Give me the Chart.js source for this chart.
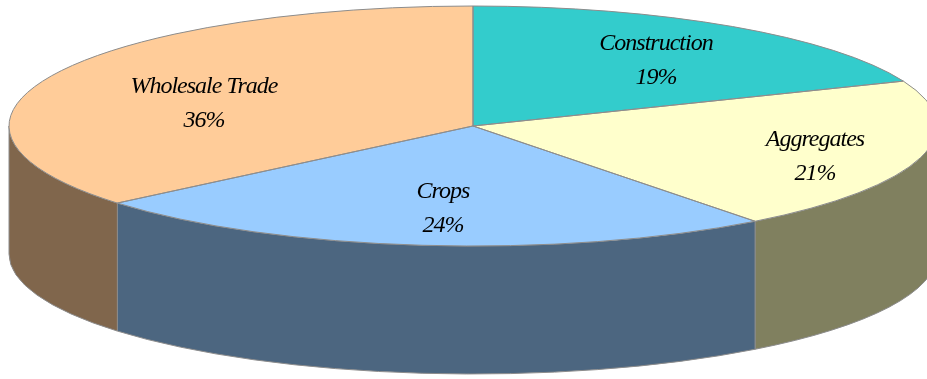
<!DOCTYPE html>
<html>
<head>
<meta charset="utf-8">
<script src="https://cdn.jsdelivr.net/npm/chart.js@4/dist/chart.umd.min.js"></script>
<style>
  html, body { margin: 0; padding: 0; background: #ffffff; overflow: hidden; }
  canvas { display: block; }
</style>
</head>
<body>
<canvas id="chart" width="927" height="379"></canvas>
<script>
// Share of activity by sector (percent)
const categories = ['Construction', 'Aggregates', 'Crops', 'Wholesale Trade'];
const shares     = [18.9, 20.7, 24.3, 36.1];

// Slice colours: top faces and their shaded outer walls
const topColors  = ['#33CCCC', '#FFFFCC', '#99CCFF', '#FFCC99'];
const sideColors = ['#1A6666', '#80805F', '#4C6680', '#80664C'];

// Where each label sits, as fractions of the disc radii along the slice's middle angle
const labelReach = [[0.705, 0.673], [0.764, 0.9], [0.59, 0.676], [0.64, 0.47]];

// Geometry of the tilted disc on the page
const DISC = { cx: 473, cy: 126, rx: 464, ry: 120, depth: 128 };
const EDGE = '#8C8C8C';
const LABEL_FONT = 'italic 24px "Liberation Serif", "DejaVu Serif", serif';

const total = shares.reduce((a, b) => a + b, 0);
const percentLabels = shares.map(v => Math.round(v / total * 100) + '%');

const tiltedPie = {
  id: 'tiltedPie',
  beforeDatasetsDraw(chart) {
    const ctx = chart.ctx;
    const arcs = chart.getDatasetMeta(0).data;
    const { cx, cy, rx, ry, depth } = DISC;

    // outer walls of the slices on the near half of the disc
    ctx.save();
    arcs.forEach((arc, i) => {
      const a1 = Math.max(arc.startAngle, 0);
      const a2 = Math.min(arc.endAngle, Math.PI);
      if (a2 <= a1) return;
      ctx.beginPath();
      ctx.ellipse(cx, cy, rx, ry, 0, a1, a2, false);
      ctx.lineTo(cx + rx * Math.cos(a2), cy + ry * Math.sin(a2) + depth);
      ctx.ellipse(cx, cy + depth, rx, ry, 0, a2, a1, true);
      ctx.closePath();
      ctx.fillStyle = sideColors[i];
      ctx.fill();
      ctx.strokeStyle = EDGE;
      ctx.lineWidth = 1;
      ctx.stroke();
    });
    ctx.restore();

    // squash the round pie onto the top face of the disc
    const a0 = arcs[0];
    ctx.save();
    ctx.translate(cx, cy);
    ctx.scale(rx / a0.outerRadius, ry / a0.outerRadius);
    ctx.translate(-a0.x, -a0.y);
  },
  afterDatasetsDraw(chart) {
    const ctx = chart.ctx;
    ctx.restore();
    const arcs = chart.getDatasetMeta(0).data;
    const { cx, cy, rx, ry } = DISC;

    // slice outlines on the top face
    ctx.save();
    ctx.strokeStyle = EDGE;
    ctx.lineWidth = 1;
    arcs.forEach(arc => {
      ctx.beginPath();
      ctx.moveTo(cx, cy);
      ctx.lineTo(cx + rx * Math.cos(arc.startAngle), cy + ry * Math.sin(arc.startAngle));
      ctx.ellipse(cx, cy, rx, ry, 0, arc.startAngle, arc.endAngle, false);
      ctx.closePath();
      ctx.stroke();
    });

    // category and percentage labels
    ctx.fillStyle = '#000000';
    ctx.font = LABEL_FONT;
    ctx.letterSpacing = '-1px';
    ctx.textAlign = 'center';
    ctx.textBaseline = 'middle';
    arcs.forEach((arc, i) => {
      const mid = (arc.startAngle + arc.endAngle) / 2;
      const x = cx + rx * labelReach[i][0] * Math.cos(mid);
      const y = cy + ry * labelReach[i][1] * Math.sin(mid);
      ctx.fillText(categories[i], x, y - 15);
      ctx.fillText(percentLabels[i], x, y + 19);
    });
    ctx.restore();
  }
};

new Chart(document.getElementById('chart'), {
  type: 'pie',
  data: {
    labels: categories,
    datasets: [{
      data: shares,
      backgroundColor: topColors,
      borderWidth: 0,
      clip: false
    }]
  },
  options: {
    responsive: false,
    animation: false,
    events: [],
    layout: { padding: 0 },
    plugins: {
      legend: { display: false },
      tooltip: { enabled: false }
    }
  },
  plugins: [tiltedPie]
});
</script>
</body>
</html>
